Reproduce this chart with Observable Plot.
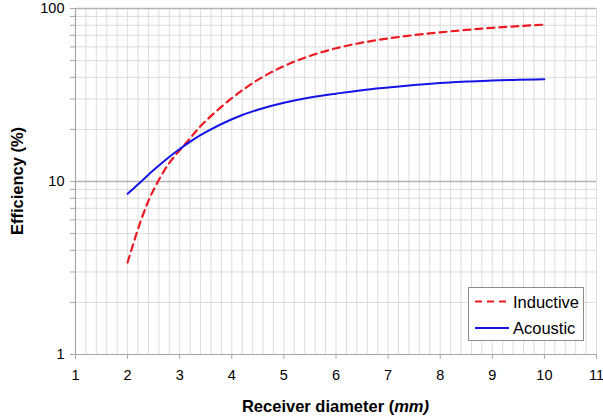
<!DOCTYPE html>
<html>
<head>
<meta charset="utf-8">
<script src="https://cdn.jsdelivr.net/npm/d3@7"></script>
<script src="https://cdn.jsdelivr.net/npm/@observablehq/plot@0.6"></script>
<style>
  html, body { margin: 0; padding: 0; background: #fff; }
  #wrap { position: relative; width: 603px; height: 418px; font-family: "Liberation Sans", Arial, sans-serif; }
  #legend { position: absolute; left: 468px; top: 287px; width: 116px; height: 54px; border: 1px solid #8c8c8c; background: #fff; box-sizing: border-box; }
</style>
</head>
<body>
<div id="wrap"></div>
<script>
// ---- data ----
const diameter = [2, 2.125, 2.25, 2.375, 2.5, 2.75, 3, 3.25, 3.5, 4, 4.5, 5, 5.5, 6, 6.5, 7, 7.5, 8, 8.5, 9, 9.5, 10];
const inductive = [3.40, 4.52, 5.89, 7.41, 8.97, 12.16, 15.14, 18.54, 22.39, 30.3, 38.7, 46.4, 53.2, 58.9, 63.5, 67.1, 70.2, 72.8, 75.2, 77.3, 79.1, 80.7];
const acoustic  = [8.49, 9.18, 9.93, 10.77, 11.64, 13.49, 15.42, 17.38, 19.32, 22.9, 26.0, 28.5, 30.6, 32.2, 33.7, 34.9, 36.1, 37.1, 37.8, 38.4, 38.7, 39.0];
const seriesNames = ["Inductive", "Acoustic"];
const xTicks = [1, 2, 3, 4, 5, 6, 7, 8, 9, 10, 11];
const xMinor = d3.range(1, 11.001, 0.2).map(d => +d.toFixed(1));
const yMinor = [1, 2, 3, 4, 5, 6, 7, 8, 9, 10, 20, 30, 40, 50, 60, 70, 80, 90, 100];
const yLabels = [1, 10, 100];

const rows = [];
diameter.forEach((d, i) => {
  rows.push({x: d, y: inductive[i], s: seriesNames[0]});
  rows.push({x: d, y: acoustic[i], s: seriesNames[1]});
});

const plot = Plot.plot({
  width: 603, height: 418,
  marginLeft: 75, marginRight: 7, marginTop: 8, marginBottom: 64,
  x: {domain: [1, 11]},
  y: {type: "log", domain: [1, 100]},
  style: {fontFamily: "'Liberation Sans', Arial, sans-serif", fontSize: "14.5px", color: "#000", background: "#fff"},
  marks: [
    Plot.gridX(xMinor, {stroke: "#dcdcdc", strokeOpacity: 1}),
    Plot.gridY(yMinor, {stroke: "#dcdcdc", strokeOpacity: 1}),
    Plot.gridY([10, 100], {stroke: "#b4b4b4", strokeOpacity: 1, strokeWidth: 1.6}),
    Plot.ruleY([1], {stroke: "#a6a6a6", strokeWidth: 1.2}),
    Plot.ruleX([1], {stroke: "#a6a6a6", strokeWidth: 1.2}),
    Plot.axisX(xTicks, {tickSize: 5, tickPadding: 10, stroke: "#a6a6a6", label: null, fontSize: 14.5}),
    Plot.axisY(yMinor, {tickSize: 5, tickPadding: 6, stroke: "#a6a6a6", label: null, fontSize: 14.5,
      tickFormat: d => yLabels.includes(d) ? String(d) : ""}),
    Plot.line(rows.filter(r => r.s === "Inductive"), {x: "x", y: "y", stroke: "#ec1a22", strokeWidth: 2.2, strokeDasharray: "7,5", curve: "natural"}),
    Plot.line(rows.filter(r => r.s === "Acoustic"), {x: "x", y: "y", stroke: "#1414e8", strokeWidth: 2, curve: "natural"})
  ]
});

const wrap = document.getElementById("wrap");
wrap.appendChild(plot);

const svg = d3.select(plot);
// axis titles
const xt = svg.append("text")
  .attr("x", 335.5).attr("y", 412)
  .attr("text-anchor", "middle")
  .attr("font-weight", "bold").attr("font-size", 16.5)
  .attr("fill", "#000");
xt.append("tspan").text("Receiver diameter (");
xt.append("tspan").attr("font-style", "italic").text("mm");
xt.append("tspan").attr("font-style", "italic").text(")");

svg.append("text")
  .attr("transform", "translate(23,181) rotate(-90)")
  .attr("text-anchor", "middle")
  .attr("font-weight", "bold").attr("font-size", 16.5)
  .attr("fill", "#000")
  .text("Efficiency (%)");

// legend
const leg = document.createElement("div");
leg.id = "legend";
wrap.appendChild(leg);
const ls = d3.select(leg).append("svg").attr("width", 116).attr("height", 54);
const items = [
  {name: seriesNames[0], color: "#ec1a22", dash: "7,5"},
  {name: seriesNames[1], color: "#1414e8", dash: null}
];
items.forEach((it, i) => {
  const y = 13.5 + i * 26.5;
  ls.append("line").attr("x1", 6).attr("x2", 40).attr("y1", y).attr("y2", y)
    .attr("stroke", it.color).attr("stroke-width", 2)
    .attr("stroke-dasharray", it.dash);
  ls.append("text").attr("x", 44).attr("y", y + 6)
    .attr("font-size", 16.5).attr("font-family", "'Liberation Sans', Arial, sans-serif")
    .attr("fill", "#000").text(it.name);
});
</script>
</body>
</html>
